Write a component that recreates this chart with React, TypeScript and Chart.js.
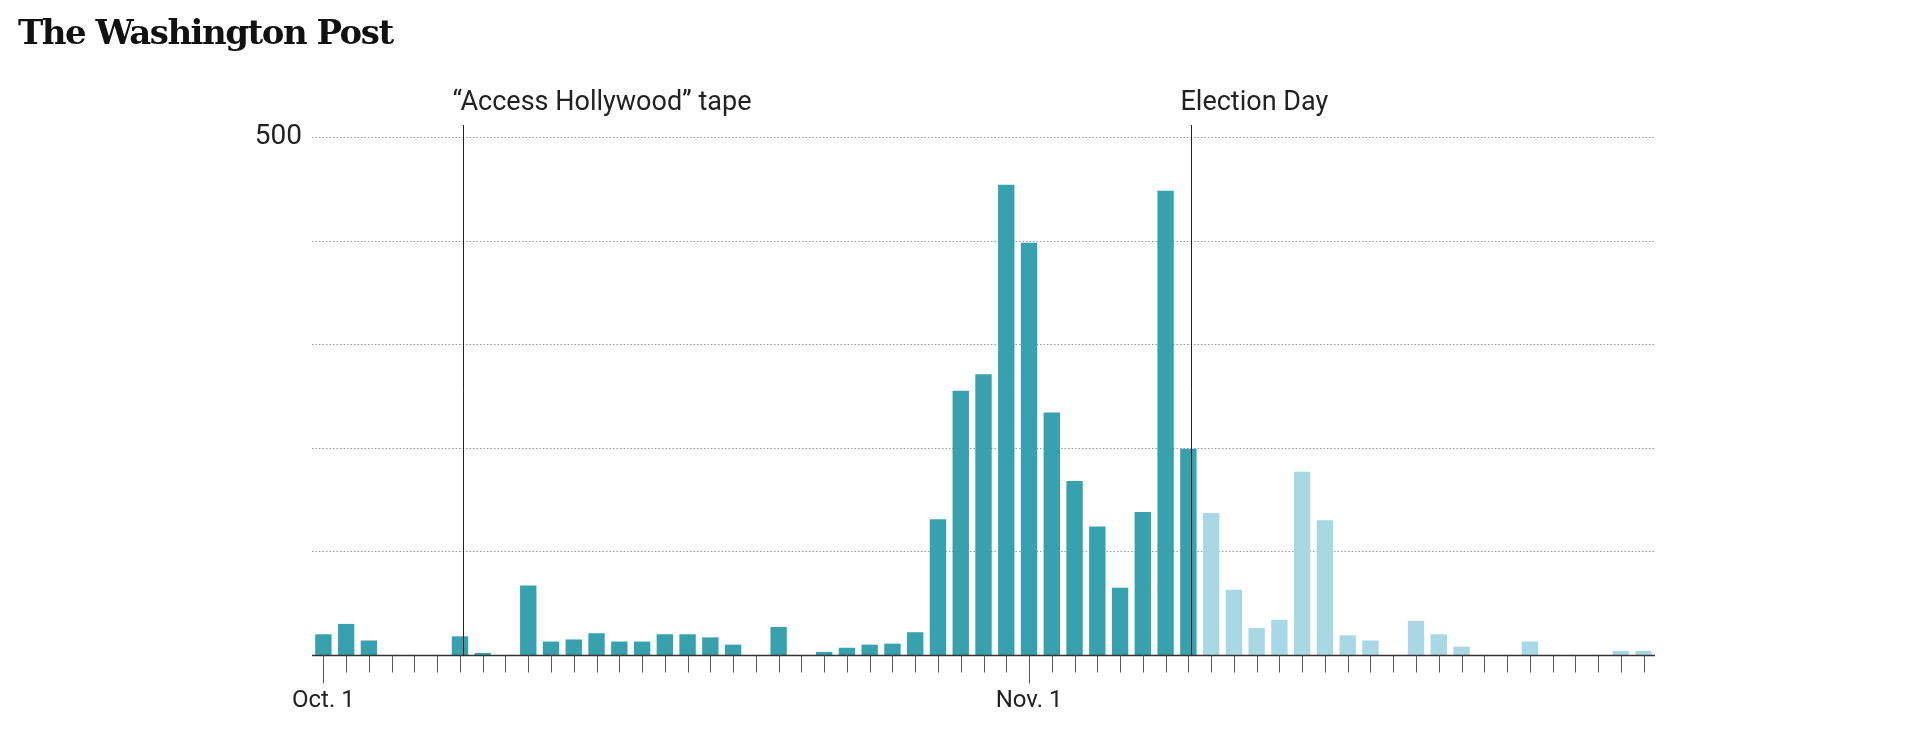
import React, { useEffect, useRef } from "react";
import { Chart, registerables } from "chart.js";
Chart.register(...registerables);

const days: string[] = [];
for (let i = 1; i <= 31; i++) days.push("Oct. " + i);
for (let i = 1; i <= 28; i++) days.push("Nov. " + i);

const beforeElection = [20,30,14,0,0,0,18,2,0,67,13,15,21,13,13,20,20,17,10,0,27,0,3,7,10,11,22,131,255,271,454,398,234,168,124,65,138,448,199];
const afterElection = [137,63,26,34,177,130,19,14,0,33,20,8,0,0,13,0,0,0,4,4];
const values = [...beforeElection, ...afterElection];
const labelTicks = ["Oct. 1", "Nov. 1"];
const events = [{ day: "Oct. 7", text: "\u201cAccess Hollywood\u201d tape" }, { day: "Nov. 8", text: "Election Day" }];
const yMax = 500;
const gridValues = [100, 200, 300, 400, 500];

const DARK = "#37a1ae";
const LIGHT = "#a9d8e5";
const FONT = "'Liberation Sans Narrow', 'Roboto', 'Liberation Sans', sans-serif";

export default function App() {
  const ref = useRef<HTMLCanvasElement>(null);
  useEffect(() => {
    document.body.style.margin = "0";
    const overlay = {
      id: "overlay",
      beforeDatasetsDraw(chart: any) {
        const { ctx, chartArea: a, scales } = chart;
        const y = scales.y;
        ctx.save();
        ctx.strokeStyle = "#999";
        ctx.lineWidth = 1;
        ctx.setLineDash([1.5, 2]);
        gridValues.forEach((v) => {
          const py = Math.round(y.getPixelForValue(v)) + 0.5;
          ctx.beginPath(); ctx.moveTo(a.left, py); ctx.lineTo(a.right, py); ctx.stroke();
        });
        ctx.setLineDash([]);
        ctx.fillStyle = "#222";
        ctx.font = "28px " + FONT;
        ctx.textAlign = "right";
        ctx.textBaseline = "middle";
        ctx.fillText(String(yMax), a.left - 10, y.getPixelForValue(yMax));
        ctx.restore();
      },
      afterDatasetsDraw(chart: any) {
        const { ctx, chartArea: a, scales } = chart;
        const x = scales.x, y = scales.y;
        const base = Math.round(y.getPixelForValue(0)) + 0.5;
        ctx.save();
        ctx.strokeStyle = "#333";
        ctx.lineWidth = 1.5;
        ctx.beginPath(); ctx.moveTo(a.left, base); ctx.lineTo(a.right, base); ctx.stroke();
        ctx.lineWidth = 1;
        ctx.strokeStyle = "#555";
        days.forEach((d, i) => {
          const px = Math.round(x.getPixelForValue(i)) + 0.5;
          const len = labelTicks.includes(d) ? 28 : 17;
          ctx.beginPath(); ctx.moveTo(px, base); ctx.lineTo(px, base + len); ctx.stroke();
        });
        ctx.fillStyle = "#222";
        ctx.font = "24px " + FONT;
        ctx.textAlign = "center";
        ctx.textBaseline = "top";
        labelTicks.forEach((d) => {
          ctx.fillText(d, x.getPixelForValue(days.indexOf(d)), base + 33);
        });
        ctx.strokeStyle = "#222";
        ctx.font = "27px " + FONT;
        ctx.textAlign = "left";
        ctx.textBaseline = "alphabetic";
        events.forEach((e) => {
          const px = Math.round(x.getPixelForValue(days.indexOf(e.day)) + 3) + 0.5;
          ctx.beginPath(); ctx.moveTo(px, a.top - 12); ctx.lineTo(px, base); ctx.stroke();
          ctx.fillText(e.text, px - 11, a.top - 27);
        });
        ctx.restore();
      },
    };
    const chart = new Chart(ref.current!, {
      type: "bar",
      data: {
        labels: days,
        datasets: [{
          data: values,
          backgroundColor: values.map((_, i) => (i < beforeElection.length ? DARK : LIGHT)),
          categoryPercentage: 1,
          barPercentage: 0.72,
        }],
      },
      options: {
        responsive: false,
        animation: false,
        layout: { padding: { left: 312, right: 265, top: 137, bottom: 85 } },
        plugins: { legend: { display: false }, tooltip: { enabled: false } },
        scales: {
          x: { display: false, offset: true },
          y: { display: false, min: 0, max: yMax },
        },
      },
      plugins: [overlay],
    });
    return () => chart.destroy();
  }, []);
  return (
    <div style={{ position: "relative", width: 1920, height: 740, background: "#fff" }}>
      <div style={{ position: "absolute", left: 18, top: 12, fontFamily: "'DejaVu Serif', serif", fontWeight: "bold", fontSize: 34, letterSpacing: -1.5, color: "#111" }}>
        The Washington Post
      </div>
      <canvas ref={ref} width={1920} height={740} style={{ display: "block" }} />
    </div>
  );
}
